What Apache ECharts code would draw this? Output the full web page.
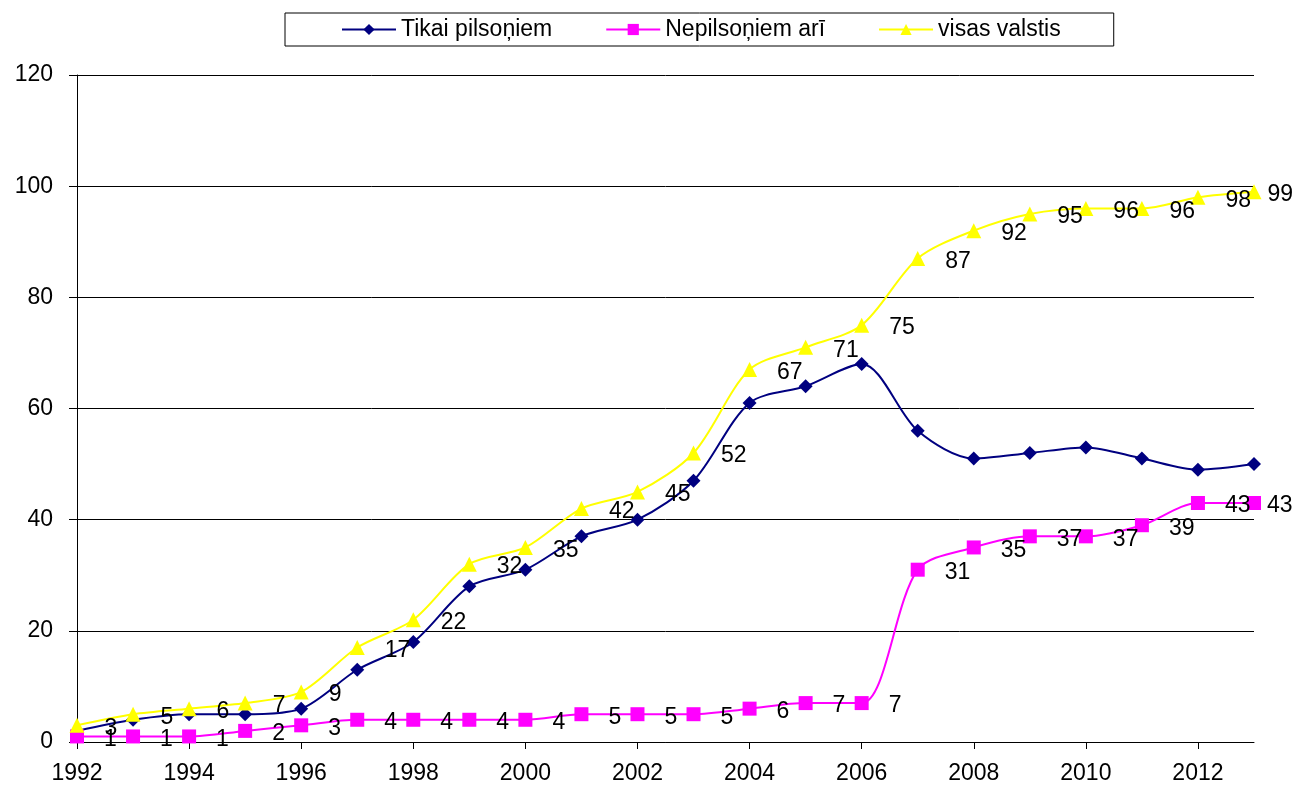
<!DOCTYPE html>
<html>
<head>
<meta charset="utf-8">
<script src="https://cdn.jsdelivr.net/npm/echarts@6/dist/echarts.min.js"></script>
<style>
  html, body { margin: 0; padding: 0; background: #fff; }
  #chart { width: 1292px; height: 787px; }
</style>
</head>
<body>
<div id="chart"></div>
<script>
const years = ['1992', '1993', '1994', '1995', '1996', '1997', '1998', '1999', '2000', '2001', '2002',
  '2003', '2004', '2005', '2006', '2007', '2008', '2009', '2010', '2011', '2012', '2013']
const citizensOnly = [2, 4, 5, 5, 6, 13, 18, 28, 31, 37, 40, 47, 61, 64, 68, 56, 51, 52, 53, 51, 49, 50]
const nonCitizensToo = [1, 1, 1, 2, 3, 4, 4, 4, 4, 5, 5, 5, 6, 7, 7, 31, 35, 37, 37, 39, 43, 43]
const allCountries = [3, 5, 6, 7, 9, 17, 22, 32, 35, 42, 45, 52, 67, 71, 75, 87, 92, 95, 96, 96, 98, 99]

const font = 'Liberation Sans, Arial, sans-serif'
const fontSize = 23

const chart = echarts.init(document.getElementById('chart'))

const dataLabel = {
  show: true,
  position: 'right',
  distance: 20,
  offset: [0, 3],
  color: '#000',
  fontSize: fontSize,
  fontFamily: font
}

// the last label is pulled in so it stays inside the chart
const withLabels = (values) => values.map((v, i) =>
  i === values.length - 1 ? { value: v, label: { distance: 6 } } : v
)

const option = {
  animation: false,
  backgroundColor: '#fff',
  legend: {
    left: 285,
    top: 13,
    padding: [5, 53, 5, 56],
    borderColor: '#000',
    borderWidth: 1,
    itemWidth: 54,
    itemHeight: 14,
    itemGap: 53,
    textStyle: { color: '#000', fontSize: fontSize, fontFamily: font }
  },
  grid: {
    left: 77,
    right: 38,
    top: 75,
    bottom: 45
  },
  xAxis: {
    type: 'category',
    boundaryGap: false,
    data: years,
    axisLine: { lineStyle: { color: '#000', width: 1 } },
    axisTick: { interval: 1, length: 7, lineStyle: { color: '#000' } },
    axisLabel: { interval: 1, color: '#000', fontSize: fontSize, fontFamily: font, margin: 20 },
    splitLine: { show: false }
  },
  yAxis: {
    type: 'value',
    min: 0,
    max: 120,
    interval: 20,
    axisLine: { show: true, lineStyle: { color: '#000', width: 1 } },
    axisTick: { show: true, length: 8, lineStyle: { color: '#000' } },
    axisLabel: { color: '#000', fontSize: fontSize, fontFamily: font, margin: 24 },
    splitLine: { lineStyle: { color: '#000', width: 1 } }
  },
  series: [
    {
      name: 'Tikai pilsoņiem',
      type: 'line',
      data: citizensOnly,
      smooth: 0.3,
      symbol: 'diamond',
      symbolSize: 14,
      lineStyle: { color: '#000080', width: 2 },
      itemStyle: { color: '#000080' }
    },
    {
      name: 'Nepilsoņiem arī',
      type: 'line',
      data: withLabels(nonCitizensToo),
      smooth: 0.3,
      symbol: 'rect',
      symbolSize: 14,
      lineStyle: { color: '#ff00ff', width: 2 },
      itemStyle: { color: '#ff00ff' },
      label: dataLabel
    },
    {
      name: 'visas valstis',
      type: 'line',
      data: withLabels(allCountries),
      smooth: 0.3,
      symbol: 'triangle',
      symbolSize: 15,
      lineStyle: { color: '#ffff00', width: 2 },
      itemStyle: { color: '#ffff00' },
      label: dataLabel
    }
  ]
}

chart.setOption(option)
window.addEventListener('resize', () => chart.resize())
</script>
</body>
</html>
